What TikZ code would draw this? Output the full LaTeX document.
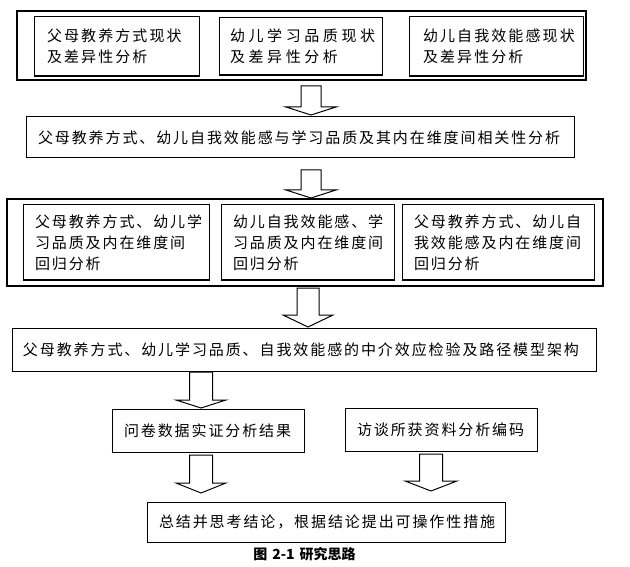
\documentclass[tikz,border=0pt]{standalone}
\usepackage{fontspec}
\setmainfont{Noto Sans CJK SC}
\newfontfamily\cjk{Noto Sans CJK SC}[LetterSpace=12.7]
\usetikzlibrary{calc}
\tikzset{
  frame/.style={draw, line width=2pt, inner sep=0pt},
  box/.style={draw, line width=1pt, inner ysep=0pt, align=left,
    font=\cjk\fontsize{15pt}{21pt}\selectfont},
  harrow/.style={draw, line width=1pt, line join=miter, fill=white},
  caption/.style={font=\bfseries\fontsize{14pt}{16pt}\selectfont, inner sep=0pt}
}
\newcommand{\hollowarrow}[5]{% start coordinate, half shaft, shaft length, total length, half wing
  \draw[harrow] ($(#1)+(-#2,0)$) -- ($(#1)+(-#2,#3)$) -- ($(#1)+(-#5,#3)$)
    -- ($(#1)+(0,#4)$) -- ($(#1)+(#5,#3)$) -- ($(#1)+(#2,#3)$) -- ($(#1)+(#2,0)$) -- cycle;}
\begin{document}
\begin{tikzpicture}[x=1pt, y=-1pt]
\useasboundingbox[fill=white] (0,0) rectangle (630,567);

% row 1
\node[frame, minimum width=569pt, minimum height=69pt] (f1) at (301.5,45.5) {};
\node[box, text width=139pt, inner xsep=13pt, minimum height=59pt,
      font=\cjk\addfontfeature{LetterSpace=14}\fontsize{15pt}{21pt}\selectfont] (a1) at (116.5,46.5)
  {父母教养方式现状\\及差异性分析};
\node[box, text width=141pt, inner xsep=11pt, minimum height=57pt,
      font=\cjk\addfontfeature{LetterSpace=24}\fontsize{15pt}{21pt}\selectfont] (b1) at (300.5,46.5)
  {幼儿学习品质现状\\及差异性分析};
\node[box, text width=146pt, inner xsep=14pt, minimum height=59pt,
      font=\cjk\addfontfeature{LetterSpace=14}\fontsize{15pt}{21pt}\selectfont] (c1) at (496,46.5)
  {幼儿自我效能感现状\\及差异性分析};

% row 2
\node[box, text width=524pt, inner xsep=12pt, minimum height=41pt] (r2) at (300,137.5)
  {父母教养方式、幼儿自我效能感与学习品质及其内在维度间相关性分析};

% row 3
\node[frame, minimum width=596pt, minimum height=87pt] (f3) at (305,242.5) {};
\node[box, text width=162pt, inner xsep=12pt, minimum height=75pt] (a3) at (116,242.5)
  {父母教养方式、幼儿学\\习品质及内在维度间\\回归分析};
\node[box, text width=149pt, inner xsep=12pt, minimum height=75pt] (b3) at (307.5,242.5)
  {幼儿自我效能感、学\\习品质及内在维度间\\回归分析};
\node[box, text width=168pt, inner xsep=12pt, minimum height=75pt] (c3) at (498,242.5)
  {父母教养方式、幼儿自\\我效能感及内在维度间\\回归分析};

% row 4
\node[box, text width=562pt, inner xsep=11pt, minimum height=43pt] (r4) at (304,349.5)
  {父母教养方式、幼儿学习品质、自我效能感的中介效应检验及路径模型架构};

% row 5
\node[box, text width=168pt, inner xsep=12pt, minimum height=43pt] (q5) at (208,430.5)
  {问卷数据实证分析结果};
\node[box, text width=168pt, inner xsep=12pt, minimum height=43pt] (i5) at (441,429.5)
  {访谈所获资料分析编码};

% row 6
\node[box, text width=334pt, inner xsep=12pt, minimum height=40pt] (s6) at (326,522)
  {总结并思考结论，根据结论提出可操作性措施};

% thicker right and bottom edges
\foreach \n in {a1,b1,c1,a3,b3,c3,r4,q5,i5,s6}
  \draw[line width=1.8pt] (\n.south west) -- (\n.south east) -- (\n.north east);

% caption
\node[caption] (cap) at (304.5,554) {图\hspace{5pt}2-1\hspace{5pt}研究思路};

% block arrows
\coordinate (p1) at (311,86);
\coordinate (p2) at (311,170);
\coordinate (p3) at (308,288);
\coordinate (p4) at (201,372);
\coordinate (p5) at (201,455);
\coordinate (p6) at (431,454);
\hollowarrow{p1}{10}{21}{29}{25}
\hollowarrow{p2}{10}{20}{28}{25}
\hollowarrow{p3}{11}{27}{39}{25}
\hollowarrow{p4}{11.5}{28}{36}{25}
\hollowarrow{p5}{11.5}{28}{38}{25}
\hollowarrow{p6}{11.5}{27}{37}{26}
\end{tikzpicture}
\end{document}
